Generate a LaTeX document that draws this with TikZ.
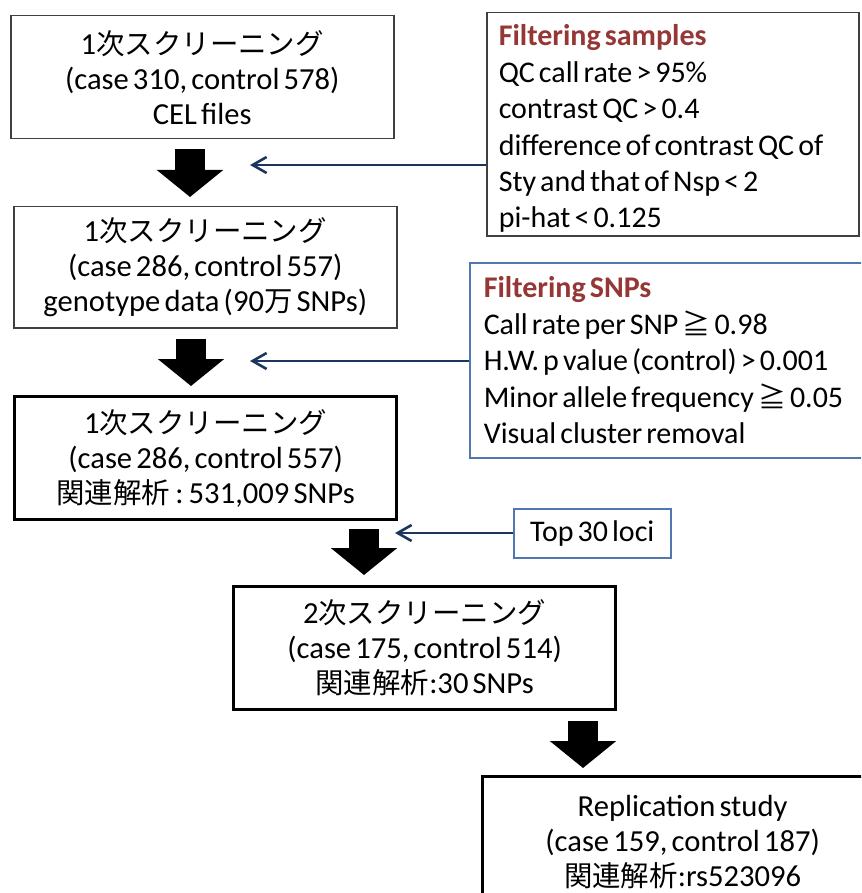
\documentclass[tikz,border=0pt]{standalone}
\usepackage{fontspec}
\setmainfont{Carlito}[WordSpace=0.6]
\newfontfamily\jpfont{Noto Sans CJK JP}[Scale=0.93]
\usetikzlibrary{arrows.meta}

\definecolor{navy}{HTML}{1B365D}
\definecolor{filterred}{HTML}{953735}
\definecolor{boxblue}{HTML}{5177B0}

\begin{document}
\begin{tikzpicture}[x=0.5pt,y=-0.5pt,
    stage/.style={draw=black!75, line width=0.75pt, anchor=north west, align=center,
      inner sep=0pt, font=\fontsize{15.3}{17.5}\selectfont},
    keystage/.style={stage, draw=black, line width=1.6pt},
    filterbox/.style={draw=#1, line width=0.75pt, anchor=north west, align=left,
      inner ysep=0pt, font=\fontsize{15}{18.2}\selectfont,
      execute at begin node={\spaceskip=0pt\xspaceskip=0pt\hyphenpenalty=10000}},
    fatarrow/.style={line width=15pt, -{Triangle[length=13.5pt,width=32.5pt]}},
    thinarrow/.style={draw=navy, line width=1.3pt, {Straight Barb[length=7pt,width=8pt]}-}]
  \useasboundingbox (0,0) rectangle (861,893);
  \clip (0,0) rectangle (861,893);

  % screening stages
  \node[stage, minimum width=191.5pt, minimum height=61.5pt] (first) at (10,15)
    {1{\jpfont 次スクリーニング}\\(case 310, control 578)\\CEL files};
  \node[stage, minimum width=191.5pt, minimum height=60.5pt] (genotype) at (13,206)
    {1{\jpfont 次スクリーニング}\\(case 286, control 557)\\genotype data (90{\jpfont 万} SNPs)};
  \node[keystage, minimum width=191pt, minimum height=61.5pt] (assoc) at (13,395)
    {1{\jpfont 次スクリーニング}\\(case 286, control 557)\\{\jpfont 関連解析}\,:\,531,009 SNPs};
  \node[keystage, minimum width=191pt, minimum height=61.5pt] (second) at (232,585)
    {2{\jpfont 次スクリーニング}\\(case 175, control 514)\\{\jpfont 関連解析}:30 SNPs};
  \node[keystage, minimum width=200pt, minimum height=65pt] (replic) at (481,775)
    {Replication study\\(case 159, control 187)\\{\jpfont 関連解析}:rs523096};

  % filters
  \node[filterbox=black!75, inner xsep=6pt, text width=174pt, minimum height=111.5pt] (samples) at (486,12)
    {\rule{0pt}{15pt}{\bfseries\color{filterred}Filtering samples}\\QC call rate > 95\%\\contrast QC > 0.4\\
     difference of contrast QC of\\Sty and that of Nsp < 2\\pi-hat < 0.125};
  \node[filterbox=boxblue, inner xsep=7pt, text width=184pt, minimum height=97.5pt] (snps) at (469,262)
    {{\bfseries\color{filterred}Filtering SNPs}\\Call rate per SNP {\jpfont ≧} 0.98\\
     H.W. p value (control) > 0.001\\Minor allele frequency {\jpfont ≧} 0.05\\Visual cluster removal};
  \node[filterbox=boxblue, align=center, inner xsep=0pt, minimum width=78.5pt, minimum height=24.5pt] (loci) at (513,508)
    {Top 30 loci};

  % big arrows
  \coordinate (c1) at (190,0);
  \coordinate (c2) at (191,0);
  \coordinate (c3) at (364,0);
  \coordinate (c4) at (583,0);
  \draw[fatarrow, shorten <=5pt, shorten >=4.5pt] (first.south -| c1) -- (genotype.north -| c1);
  \draw[fatarrow, shorten <=5pt, shorten >=4.5pt] (genotype.south -| c2) -- (assoc.north -| c2);
  \draw[fatarrow, shorten <=4pt, shorten >=5pt] (assoc.south -| c3) -- (second.north -| c3);
  \draw[fatarrow, shorten <=5pt, shorten >=3.5pt] (second.south -| c4) -- (replic.north -| c4);

  % filter pointers
  \coordinate (t1) at (250,165);
  \coordinate (t2) at (250,361);
  \coordinate (t3) at (395,533);
  \draw[thinarrow] (t1) -- (t1 -| samples.west);
  \draw[thinarrow] (t2) -- (t2 -| snps.west);
  \draw[thinarrow] (t3) -- (t3 -| loci.west);
\end{tikzpicture}
\end{document}
